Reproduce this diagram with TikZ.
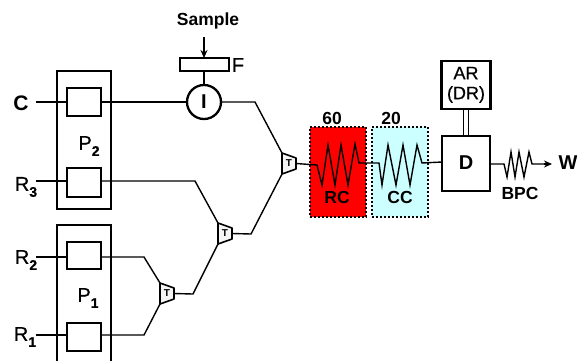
\documentclass[tikz,border=0pt]{standalone}
\usepackage{fontspec}
\setmainfont{Liberation Sans}
\newfontfamily\semifont[FakeBold=0.6]{Liberation Sans}
\usetikzlibrary{arrows.meta,calc}
\definecolor{ccfill}{RGB}{204,255,255}
\definecolor{trapfill}{RGB}{245,245,245}
\tikzset{
  x=1pt,y=-1pt,
  wire/.style={line width=1.4pt,line join=miter},
  boxa/.style={draw,line width=2.3pt,fill=white,inner sep=0pt},
  outerbox/.style={draw,line width=2.3pt,inner sep=0pt},
  dotbox/.style={draw,line width=2pt,dash pattern=on 2pt off 2pt,inner sep=0pt},
  lab/.style={font=\fontsize{20}{20}\selectfont\semifont,inner sep=0pt},
  blab/.style={font=\fontsize{17.5}{17.5}\selectfont\bfseries,inner sep=0pt},
  tlab/.style={font=\fontsize{10}{10}\selectfont\bfseries,inner sep=0pt},
  trapshape/.style={draw,line width=1.6pt,fill=trapfill,line join=round},
  arrowline/.style={wire,-{Stealth[length=8pt,width=7pt]}}
}
\newcommand{\subdig}[1]{\raisebox{-6pt}{\fontsize{14}{14}\selectfont\bfseries #1}}
\newcommand{\trapnode}[3]{%
  \coordinate (#1a) at (#2-7,#3-10.5);
  \coordinate (#1b) at (#2-7,#3+10.5);
  \coordinate (#1c) at (#2+7,#3+5.5);
  \coordinate (#1d) at (#2+7,#3-5.5);
  \draw[trapshape] (#1a) -- (#1b) -- (#1c) -- (#1d) -- cycle;
  \node[tlab] (#1) at (#2,#3) {T};
  \coordinate (#1o) at (#2+7,#3);
}
\begin{document}
\begin{tikzpicture}
\useasboundingbox (0,0) rectangle (577,360);
\path[clip] (0,0) rectangle (577,360);
% pump housings
\node[outerbox,minimum width=54pt,minimum height=138pt] (P2) at (84,140) {};
\node[outerbox,minimum width=54pt,minimum height=150pt] (P1) at (84,300) {};
\node[lab] (p2l) at (89,146) {P\subdig{2}};
\node[lab] (p1l) at (88,298) {P\subdig{1}};
% left labels
\node[lab,font=\fontsize{21}{21}\selectfont\bfseries] (C) at (21,103) {C};
\node[lab] (R3) at (26,187) {R\subdig{3}};
\node[lab] (R2) at (26,260) {R\subdig{2}};
\node[lab] (R1) at (25,337) {R\subdig{1}};
\coordinate (Cs) at (36,102);
\coordinate (R3s) at (36,181);
\coordinate (R2s) at (36,257);
\coordinate (R1s) at (36,335);
% coloured columns
\node[dotbox,fill=red,minimum width=56pt,minimum height=90pt] (RC) at (338,172) {};
\node[dotbox,fill=ccfill,minimum width=56pt,minimum height=90pt] (CC) at (400,172) {};
% joins
\coordinate (k1) at (255,102);
\coordinate (k3) at (195,181);
\coordinate (k2o) at (251,234);
\coordinate (k2a) at (144,257);
\coordinate (k1a) at (144,335);
\coordinate (k3o) at (193,294);
\trapnode{t1}{289}{163.5}
\trapnode{t2}{225}{233.5}
\trapnode{t3}{167}{293.5}
% input wires
\draw[wire] (Cs) -- (67,102);
\draw[wire] (R3s) -- (67,181);
\draw[wire] (R2s) -- (67,257);
\draw[wire] (R1s) -- (67,335);
\node[boxa,minimum width=34pt,minimum height=28pt] (pc) at (84,102) {};
\node[boxa,minimum width=34pt,minimum height=29pt] (p3) at (84,182.5) {};
\node[boxa,minimum width=34pt,minimum height=27pt] (p2) at (84,255.5) {};
\node[boxa,minimum width=34pt,minimum height=28pt] (p1) at (84,337) {};
% injector
\node[draw,circle,line width=2.3pt,minimum size=34pt,inner sep=0pt,font=\fontsize{20}{20}\selectfont\bfseries] (I) at (204,102) {I};
\node[boxa,minimum width=49pt,minimum height=13pt] (F) at (204.5,64.5) {};
\node[lab] (Fl) at (238,65) {F};
\node[blab] (S) at (208,21) {Sample};
\draw[arrowline] (204,37) -- (204,58);
\draw[wire] (F.south -| I) -- (I.north);
% output wires
\draw[wire] (101,102) -- (I.west);
\draw[wire] (I.east) -- (k1) -- (t1a);
\draw[wire] (101,181) -- (k3) -- (t2a);
\draw[wire] (t2o) -- (k2o) -- (t1b);
\draw[wire] (101,257) -- (k2a) -- (t3a);
\draw[wire] (101,335) -- (k1a) -- (t3b);
\draw[wire] (t3o) -- (k3o) -- (t2b);
% coils
\draw[wire] (t1o) -- (317,165) -- (322,185) -- (328,145) -- (335,185) -- (341,145) -- (348,185) -- (355,144) -- (359,163) -- (379,163) -- (382,185) -- (388,145) -- (396,185) -- (403,145) -- (410,185) -- (417,145) -- (422,163) -- (442,162);
\node[blab] (rcl) at (337,197) {RC};
\node[blab] (ccl) at (400,197) {CC};
\node[blab] (n60) at (332,118) {60};
\node[blab] (n20) at (391,118) {20};
% detector
\node[boxa,minimum width=48pt,minimum height=55pt] (D) at (466,163.5) {};
\node[lab,font=\fontsize{20}{20}\selectfont\bfseries] (Dl) at (466,163) {D};
\node[boxa,minimum width=49pt,minimum height=48pt] (AR) at (466,85) {};
\node[lab,font=\fontsize{18}{21}\selectfont\semifont] (ARl) at (466,85) {\begin{tabular}{@{}c@{}}AR\\[-1pt](DR)\end{tabular}};
\draw[line width=1.3pt] ([xshift=-2.5pt]AR.south) -- ([xshift=-2.5pt]D.north);
\draw[line width=1.3pt] ([xshift=2.5pt]AR.south) -- ([xshift=2.5pt]D.north);
% back pressure coil
\coordinate (wend) at (552,164);
\node[blab,font=\fontsize{20}{20}\selectfont\bfseries] (W) at (568,163) {W};
\draw[wire] (D.east |- 0,164) -- (504,164) -- (507,177) -- (511,152) -- (515,177) -- (519,152) -- (524,177) -- (529,152) -- (532,164) -- (544,164);
\draw[arrowline] (544,164) -- (wend);
\node[blab] (BPC) at (520,193) {BPC};
\end{tikzpicture}
\end{document}
